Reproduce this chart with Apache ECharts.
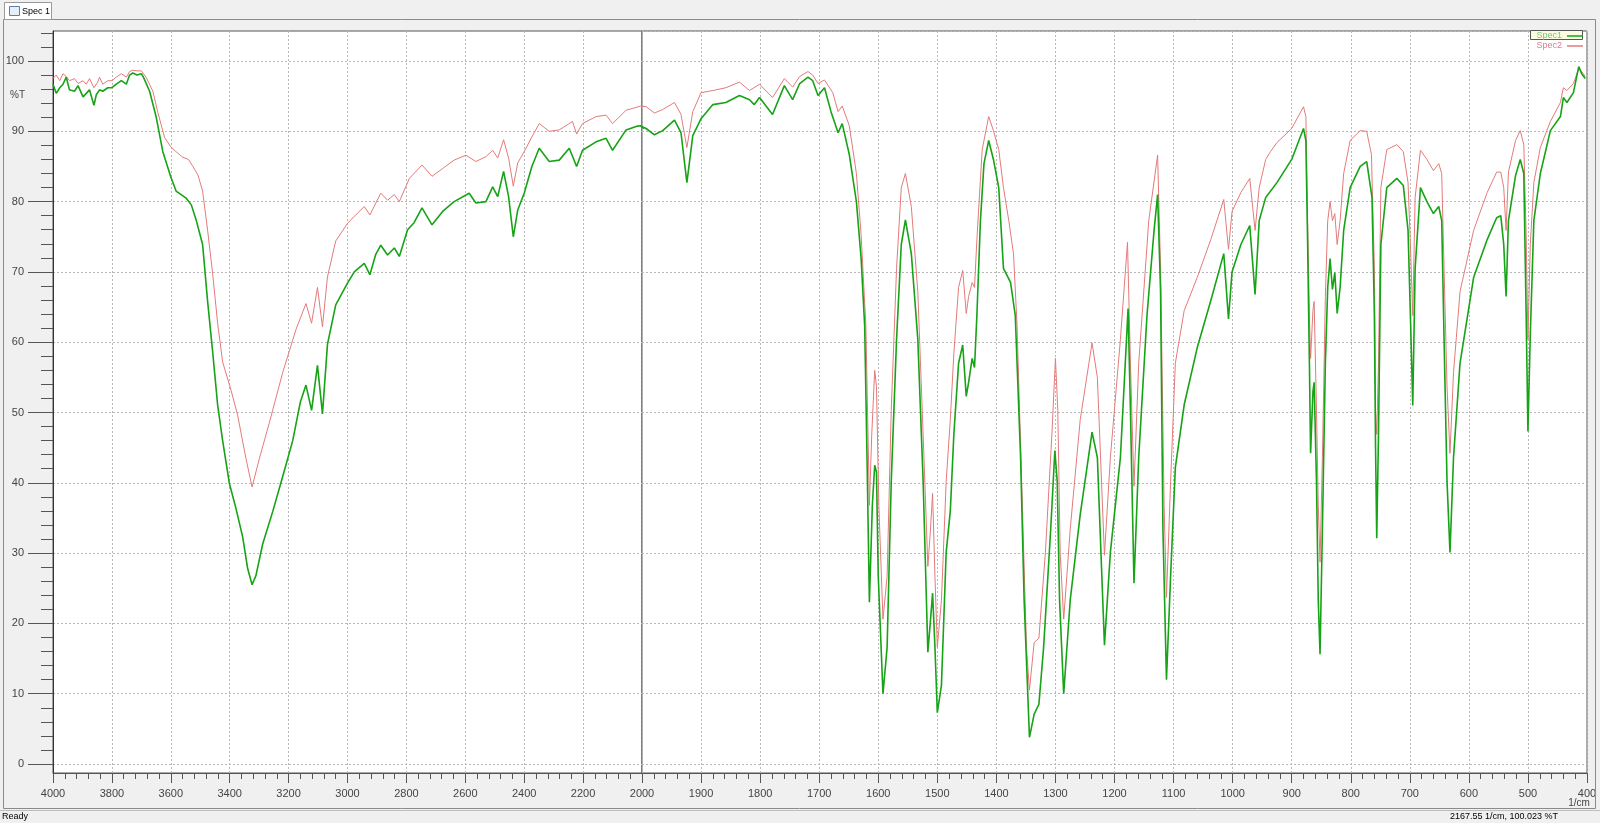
<!DOCTYPE html>
<html><head><meta charset="utf-8">
<script src="https://cdn.jsdelivr.net/npm/echarts@6/dist/echarts.min.js"></script>
<style>html,body{margin:0;padding:0;background:#f0f0f0;overflow:hidden}#c{width:1600px;height:823px}</style>
</head><body><div id="c"></div>
<script>
// ---- data (wavenumber 1/cm, %T) ----
const seriesNames = ['Spec1', 'Spec2'];
const spec1 = [
[4000,96.7],[3989,95.4],[3977,96.2],[3966,96.7],[3955,97.7],[3944,95.9],[3927,95.7],[3915,96.5],[3898,94.9],[3887,95.4],
[3876,95.9],[3861,93.7],[3853,95.2],[3842,95.9],[3831,95.7],[3814,96.2],[3800,96.2],[3785,96.7],[3768,97.2],[3751,96.7],
[3740,98.0],[3729,98.3],[3715,98.0],[3700,98.2],[3693,97.7],[3672,95.7],[3650,92.1],[3627,87.1],[3600,83.5],[3582,81.5],
[3565,81.0],[3548,80.5],[3530,79.5],[3514,77.4],[3492,73.9],[3475,65.8],[3458,58.7],[3441,51.1],[3424,46.0],[3401,39.9],
[3379,36.4],[3356,32.3],[3339,27.8],[3324,25.5],[3311,26.8],[3288,31.3],[3254,35.9],[3220,40.9],[3186,46.0],[3160,51.5],
[3141,53.9],[3122,50.3],[3102,56.7],[3085,49.8],[3068,59.7],[3040,65.3],[3000,68.4],[2977,70.0],[2943,71.2],[2924,69.6],
[2904,72.5],[2887,73.8],[2864,72.4],[2841,73.4],[2824,72.2],[2796,76.0],[2774,77.0],[2747,79.1],[2713,76.7],[2677,78.6],
[2638,80.0],[2587,81.2],[2564,79.8],[2530,80.0],[2507,82.1],[2490,80.7],[2470,84.3],[2453,80.7],[2437,75.0],[2422,78.8],
[2400,81.2],[2374,85.0],[2349,87.6],[2315,85.7],[2281,85.9],[2247,87.6],[2222,85.0],[2202,87.3],[2156,88.5],[2122,89.0],
[2100,87.3],[2054,90.2],[2020,90.7],[2005,90.8],[1993,90.4],[1979,89.5],[1965,90.1],[1945,91.6],[1934,89.8],[1924,82.7],
[1914,89.4],[1900,91.8],[1880,93.8],[1858,94.1],[1835,95.1],[1818,94.5],[1810,93.8],[1801,94.8],[1779,92.4],[1759,96.5],
[1745,94.5],[1733,96.8],[1719,97.7],[1711,97.2],[1702,95.1],[1691,96.2],[1680,92.8],[1668,89.8],[1661,91.1],[1649,86.7],
[1637,80.0],[1629,71.9],[1623,62.4],[1619,43.6],[1615,23.0],[1610,36.8],[1606,42.5],[1603,41.5],[1600,26.7],[1592,10.0],
[1585,16.6],[1578,40.2],[1569,60.4],[1561,73.9],[1554,77.4],[1544,72.6],[1533,60.4],[1524,40.2],[1516,15.9],[1512,20.0],
[1508,24.3],[1504,16.6],[1500,7.3],[1493,11.2],[1485,30.1],[1478,36.0],[1472,46.9],[1464,57.0],[1457,59.6],[1451,52.3],
[1447,54.3],[1441,57.7],[1437,56.4],[1433,63.8],[1427,77.3],[1421,85.4],[1413,88.7],[1405,86.0],[1396,82.0],[1388,70.5],
[1376,68.5],[1368,63.8],[1359,43.6],[1353,23.3],[1344,3.8],[1336,7.1],[1328,8.5],[1320,16.6],[1308,33.4],[1301,44.6],
[1297,40.2],[1293,23.3],[1286,10.0],[1275,23.3],[1258,35.5],[1238,47.2],[1229,43.6],[1217,16.9],[1207,30.1],[1190,43.6],
[1177,64.8],[1173,50.3],[1167,25.7],[1159,43.6],[1145,63.8],[1133,75.9],[1127,81.0],[1122,67.2],[1118,33.4],[1112,12.0],
[1105,26.7],[1097,42.2],[1082,51.1],[1060,59.2],[1037,65.9],[1015,72.6],[1007,63.3],[1001,70.0],[986,73.9],[971,76.6],
[962,66.8],[955,77.3],[944,80.6],[925,82.7],[900,86.0],[880,90.4],[876,88.7],[873,73.9],[870,57.0],[868,44.2],
[864,53.0],[862,54.3],[858,40.2],[855,23.3],[852,15.6],[848,33.4],[843,57.0],[839,67.8],[835,71.9],[831,67.5],
[827,69.9],[823,64.1],[818,67.8],[812,75.9],[801,82.0],[784,85.0],[773,85.7],[764,80.6],[760,63.8],[758,44.9],
[756,32.1],[753,46.9],[749,73.9],[739,82.0],[722,83.3],[711,82.3],[703,75.9],[699,63.8],[695,51.0],[691,70.5],
[682,82.0],[671,80.0],[660,78.3],[651,79.3],[646,77.3],[642,60.4],[637,40.2],[632,30.1],[626,43.6],[615,57.0],
[592,69.2],[569,74.6],[553,77.7],[546,78.0],[541,73.9],[537,66.5],[533,77.3],[521,83.7],[513,86.0],[507,84.0],
[503,63.8],[500,47.3],[496,61.1],[490,77.3],[479,84.0],[462,90.1],[445,92.1],[440,94.8],[434,94.1],[423,95.5],
[414,99.2],[409,98.2],[403,97.5]
];
const spec2 = [
[4000,97.5],[3989,98.0],[3977,97.2],[3966,98.2],[3955,97.8],[3944,97.2],[3927,97.5],[3915,96.8],[3898,97.2],[3887,96.7],
[3876,97.5],[3861,96.2],[3848,97.0],[3842,97.7],[3831,96.7],[3814,97.2],[3800,97.2],[3785,97.7],[3768,98.2],[3751,97.7],
[3740,98.5],[3729,98.7],[3715,98.6],[3700,98.6],[3684,97.7],[3661,95.7],[3644,92.7],[3621,89.1],[3600,87.8],[3582,87.1],
[3559,86.3],[3540,86.0],[3525,85.0],[3508,83.8],[3492,81.5],[3475,75.9],[3458,69.8],[3441,62.7],[3424,57.2],[3395,53.1],
[3373,49.6],[3345,43.5],[3324,39.4],[3299,43.5],[3265,48.6],[3220,55.7],[3175,61.8],[3141,65.5],[3122,62.7],[3102,67.8],
[3085,62.2],[3068,69.3],[3040,74.4],[3000,76.9],[2977,77.9],[2943,79.3],[2924,78.1],[2887,81.2],[2864,80.2],[2841,81.0],
[2824,80.0],[2790,83.3],[2747,85.2],[2713,83.6],[2677,84.7],[2638,85.9],[2598,86.6],[2564,85.7],[2530,86.4],[2507,87.3],
[2490,86.2],[2470,88.8],[2453,86.2],[2437,82.2],[2422,85.5],[2400,87.1],[2374,89.2],[2349,91.1],[2315,90.0],[2281,90.2],
[2236,91.4],[2222,89.6],[2202,91.1],[2156,92.1],[2122,92.3],[2100,91.1],[2054,93.0],[2020,93.4],[2005,93.6],[1993,93.5],
[1979,92.6],[1965,93.1],[1945,94.1],[1934,92.4],[1924,87.7],[1914,92.8],[1900,95.5],[1880,95.8],[1858,96.2],[1835,97.0],
[1818,95.8],[1801,96.7],[1779,94.8],[1759,97.5],[1745,96.3],[1733,97.8],[1719,98.5],[1711,98.0],[1702,96.8],[1691,97.3],
[1677,95.5],[1668,92.8],[1661,93.6],[1649,90.8],[1637,84.0],[1629,75.3],[1621,62.4],[1617,45.6],[1615,36.8],[1611,46.9],
[1606,56.0],[1603,53.7],[1599,36.8],[1592,20.6],[1585,26.7],[1578,50.3],[1569,70.5],[1561,82.0],[1554,84.0],[1544,79.3],
[1533,67.2],[1524,46.9],[1516,28.1],[1512,32.8],[1508,38.5],[1504,26.7],[1500,16.6],[1493,23.3],[1485,40.2],[1478,49.0],
[1472,58.4],[1464,67.8],[1457,70.2],[1451,64.1],[1447,66.5],[1441,68.5],[1437,67.8],[1433,74.6],[1424,87.4],[1413,92.1],
[1405,90.1],[1396,87.4],[1388,82.0],[1379,77.3],[1371,72.6],[1365,62.4],[1356,36.8],[1349,16.6],[1344,10.5],[1336,17.3],
[1328,17.9],[1317,30.1],[1306,46.9],[1300,57.7],[1296,50.3],[1292,30.1],[1286,20.6],[1275,33.4],[1258,49.0],[1238,59.9],
[1229,55.0],[1217,29.7],[1207,43.6],[1190,60.4],[1178,74.2],[1173,57.0],[1167,39.5],[1159,57.0],[1142,77.3],[1127,86.6],
[1122,70.5],[1116,36.8],[1112,23.7],[1105,40.2],[1097,57.0],[1082,64.5],[1060,69.2],[1037,74.6],[1015,80.3],[1007,73.2],
[1001,78.6],[986,81.3],[971,83.3],[962,75.9],[955,82.0],[944,86.0],[936,87.1],[925,88.4],[900,90.4],[880,93.5],
[876,92.1],[873,77.3],[870,63.8],[868,57.7],[864,64.5],[862,65.8],[858,50.3],[855,36.8],[852,28.7],[848,43.6],
[843,66.5],[839,77.3],[835,80.0],[831,77.3],[827,78.3],[823,73.9],[818,77.3],[812,84.0],[801,88.7],[784,90.1],
[773,90.0],[765,86.7],[760,70.5],[758,50.3],[756,46.9],[753,57.0],[749,82.0],[739,87.4],[722,88.1],[711,87.1],
[703,82.7],[699,73.9],[695,63.8],[691,80.6],[682,87.3],[671,86.0],[660,84.4],[651,85.4],[646,84.0],[642,70.5],
[637,53.7],[632,44.2],[626,55.7],[615,67.2],[592,75.9],[569,81.3],[553,84.2],[546,84.2],[541,82.0],[537,75.9],
[533,84.2],[521,88.7],[513,90.1],[507,88.1],[503,75.3],[500,60.4],[496,73.9],[490,82.7],[479,87.7],[462,91.4],
[445,94.1],[440,96.2],[434,95.8],[423,96.8],[414,98.9],[409,98.5],[403,97.8]
];
const yLabelValues = [0,10,20,30,40,50,60,70,80,90,100];
const yMinorValues = [2,4,6,8,12,14,16,18,22,24,26,28,32,34,36,38,42,44,46,48,52,54,56,58,62,64,66,68,72,74,76,78,82,84,86,88,92,94,96,98,102,104];
const breakWn = 2000;

// split each spectrum at the axis break (keep one neighbour so the clip joins)
function leftPart(arr){ const i = arr.findIndex(p => p[0] < breakWn); return arr.slice(0, i + 1); }
function rightPart(arr){ const i = arr.findIndex(p => p[0] <= breakWn); return arr.slice(Math.max(0, i - 1)); }

const FONT = 'Liberation Sans, Arial, sans-serif';
const AX = '#555';
const gridLine = { show: true, lineStyle: { color: '#b8b8b8', type: [2, 2], width: 1 } };
const yMin = -1.28, yMax = 104.27;

const xLabel = { margin: 15, fontSize: 11, color: '#444', fontFamily: FONT, formatter: v => String(Math.round(v)) };
const xCommon = {
  type: 'value', inverse: true,
  axisLine: { show: true, onZero: false, lineStyle: { color: AX } },
  axisTick: { show: true, length: 10, lineStyle: { color: AX } },
  minorTick: { show: true, splitNumber: 5, length: 6, lineStyle: { color: AX } },
  axisLabel: xLabel,
  splitLine: gridLine
};

const colors = { Spec1: '#16a316', Spec2: '#e47a7a' };
function mkSeries(name, data, gi, width){
  return {
    name, type: 'line', xAxisIndex: gi, yAxisIndex: gi === 0 ? 0 : 2,
    data, symbol: 'none', showSymbol: false, clip: true, animation: false,
    color: colors[name],
    lineStyle: { width, color: colors[name] }, z: name === 'Spec1' ? 3 : 2
  };
}

const chart = echarts.init(document.getElementById('c'), null, { renderer: 'canvas' });
chart.setOption({
  animation: false,
  backgroundColor: '#f0f0f0',
  textStyle: { fontFamily: FONT },
  grid: [
    { left: 53, top: 31, width: 589, height: 742, show: true, backgroundColor: '#fff', borderColor: '#555', borderWidth: 1 },
    { left: 642, top: 31, width: 945, height: 742, show: true, backgroundColor: '#fff', borderColor: '#555', borderWidth: 1 }
  ],
  xAxis: [
    Object.assign({}, xCommon, { gridIndex: 0, min: 2000, max: 4000, interval: 200 }),
    Object.assign({}, xCommon, { gridIndex: 1, min: 400, max: 2000, interval: 100,
      axisLabel: Object.assign({}, xLabel, { showMaxLabel: false }) })
  ],
  yAxis: [
    { gridIndex: 0, type: 'value', position: 'left', min: yMin, max: yMax, splitNumber: 10,
      axisLine: { show: true, onZero: false, lineStyle: { color: '#333' } },
      axisTick: { show: true, length: 25, customValues: yLabelValues, lineStyle: { color: AX } },
      axisLabel: { customValues: yLabelValues, margin: 29, fontSize: 11, color: '#444', fontFamily: FONT },
      splitLine: gridLine },
    { gridIndex: 0, type: 'value', position: 'left', offset: 0, min: yMin, max: yMax,
      axisLine: { show: false }, axisLabel: { show: false }, splitLine: { show: false },
      axisTick: { show: true, length: 12, customValues: yMinorValues, lineStyle: { color: AX } } },
    { gridIndex: 1, type: 'value', position: 'left', min: yMin, max: yMax, splitNumber: 10,
      axisLine: { show: false }, axisTick: { show: false }, axisLabel: { show: false },
      splitLine: gridLine }
  ],
  legend: {
    right: 17, top: 31, orient: 'vertical', align: 'right', padding: 0,
    icon: 'rect', itemWidth: 16, itemHeight: 1.5, itemGap: 0, z: 10,
    textStyle: { fontSize: 9, fontFamily: FONT, lineHeight: 10 },
    data: [
      { name: seriesNames[0], textStyle: { color: '#7cc27c' } },
      { name: seriesNames[1], textStyle: { color: '#e07a90' } }
    ]
  },
  graphic: [
    { type: 'rect', z: 100, silent: true, shape: { x: 3.5, y: 19.5, width: 1592, height: 789 },
      style: { fill: 'none', stroke: '#8a8a8a', lineWidth: 1 } },
    { type: 'line', z: 100, silent: true, shape: { x1: 0, y1: 810.5, x2: 1600, y2: 810.5 }, style: { stroke: '#bdbdbd' } },
    { type: 'rect', z: 100, shape: { x: 4.5, y: 2.5, width: 47, height: 17 }, style: { fill: '#fff', stroke: '#9a9a9a' } },
    { type: 'rect', z: 101, shape: { x: 9.5, y: 6.5, width: 10, height: 9 }, style: { fill: '#e6eef8', stroke: '#5b7fb0' } },
    { type: 'text', z: 101, style: { x: 22, y: 11.5, text: 'Spec 1', fontSize: 9, fill: '#000', verticalAlign: 'middle', fontFamily: FONT } },
    { type: 'text', z: 101, style: { x: 10, y: 95, text: '%T', fontSize: 10, fill: '#444', verticalAlign: 'middle', fontFamily: FONT } },
    { type: 'text', z: 101, style: { x: 1579, y: 803, text: '1/cm', fontSize: 10, fill: '#444', align: 'center', verticalAlign: 'middle', fontFamily: FONT } },
    { type: 'text', z: 101, style: { x: 2, y: 817, text: 'Ready', fontSize: 9, fill: '#000', verticalAlign: 'middle', fontFamily: FONT } },
    { type: 'text', z: 101, style: { x: 1504, y: 817, text: '2167.55 1/cm, 100.023 %T', fontSize: 9, fill: '#000', align: 'center', verticalAlign: 'middle', fontFamily: FONT } },
    { type: 'rect', z: 3, silent: true, shape: { x: 1530.5, y: 30.5, width: 52, height: 9 }, style: { fill: '#fbfbe2', stroke: '#555' } }
  ],
  series: [
    mkSeries('Spec2', leftPart(spec2), 0, 1),
    mkSeries('Spec2', rightPart(spec2), 1, 1),
    mkSeries('Spec1', leftPart(spec1), 0, 1.6),
    mkSeries('Spec1', rightPart(spec1), 1, 1.6)
  ]
});
</script></body></html>
